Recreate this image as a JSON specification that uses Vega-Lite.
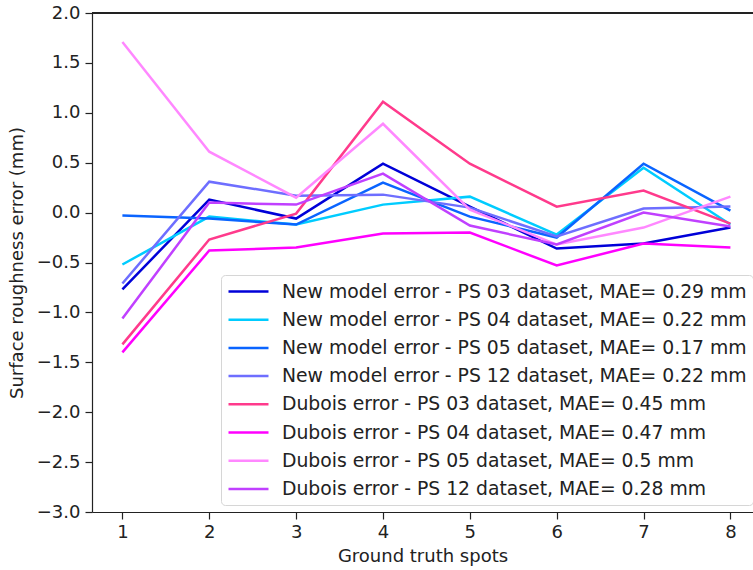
{
  "$schema": "https://vega.github.io/schema/vega-lite/v6.json",
  "width": 661,
  "height": 499,
  "autosize": {"type": "none"},
  "padding": {"left": 92, "top": 13, "right": 0, "bottom": 58},
  "background": "white",
  "config": {
    "font": "DejaVu Sans",
    "view": {"stroke": null},
    "axis": {
      "grid": false,
      "domainColor": "#222222",
      "domainWidth": 1.2,
      "tickColor": "#222222",
      "tickWidth": 1.2,
      "tickSize": 7,
      "labelFont": "DejaVu Sans",
      "labelFontSize": 18,
      "labelColor": "#222222",
      "titleFont": "DejaVu Sans",
      "titleFontSize": 18,
      "titleFontWeight": "normal",
      "titleColor": "#222222"
    }
  },
  "data": {
    "values": [
      {"series": "New model error - PS 03 dataset, MAE= 0.29 mm", "spot": 1, "error": -0.77},
      {"series": "New model error - PS 03 dataset, MAE= 0.29 mm", "spot": 2, "error": 0.13},
      {"series": "New model error - PS 03 dataset, MAE= 0.29 mm", "spot": 3, "error": -0.06},
      {"series": "New model error - PS 03 dataset, MAE= 0.29 mm", "spot": 4, "error": 0.49},
      {"series": "New model error - PS 03 dataset, MAE= 0.29 mm", "spot": 5, "error": 0.06},
      {"series": "New model error - PS 03 dataset, MAE= 0.29 mm", "spot": 6, "error": -0.36},
      {"series": "New model error - PS 03 dataset, MAE= 0.29 mm", "spot": 7, "error": -0.31},
      {"series": "New model error - PS 03 dataset, MAE= 0.29 mm", "spot": 8, "error": -0.15},
      {"series": "New model error - PS 04 dataset, MAE= 0.22 mm", "spot": 1, "error": -0.52},
      {"series": "New model error - PS 04 dataset, MAE= 0.22 mm", "spot": 2, "error": -0.04},
      {"series": "New model error - PS 04 dataset, MAE= 0.22 mm", "spot": 3, "error": -0.12},
      {"series": "New model error - PS 04 dataset, MAE= 0.22 mm", "spot": 4, "error": 0.08},
      {"series": "New model error - PS 04 dataset, MAE= 0.22 mm", "spot": 5, "error": 0.16},
      {"series": "New model error - PS 04 dataset, MAE= 0.22 mm", "spot": 6, "error": -0.22},
      {"series": "New model error - PS 04 dataset, MAE= 0.22 mm", "spot": 7, "error": 0.45},
      {"series": "New model error - PS 04 dataset, MAE= 0.22 mm", "spot": 8, "error": -0.12},
      {"series": "New model error - PS 05 dataset, MAE= 0.17 mm", "spot": 1, "error": -0.03},
      {"series": "New model error - PS 05 dataset, MAE= 0.17 mm", "spot": 2, "error": -0.06},
      {"series": "New model error - PS 05 dataset, MAE= 0.17 mm", "spot": 3, "error": -0.12},
      {"series": "New model error - PS 05 dataset, MAE= 0.17 mm", "spot": 4, "error": 0.30},
      {"series": "New model error - PS 05 dataset, MAE= 0.17 mm", "spot": 5, "error": -0.04},
      {"series": "New model error - PS 05 dataset, MAE= 0.17 mm", "spot": 6, "error": -0.25},
      {"series": "New model error - PS 05 dataset, MAE= 0.17 mm", "spot": 7, "error": 0.49},
      {"series": "New model error - PS 05 dataset, MAE= 0.17 mm", "spot": 8, "error": 0.02},
      {"series": "New model error - PS 12 dataset, MAE= 0.22 mm", "spot": 1, "error": -0.71},
      {"series": "New model error - PS 12 dataset, MAE= 0.22 mm", "spot": 2, "error": 0.31},
      {"series": "New model error - PS 12 dataset, MAE= 0.22 mm", "spot": 3, "error": 0.17},
      {"series": "New model error - PS 12 dataset, MAE= 0.22 mm", "spot": 4, "error": 0.18},
      {"series": "New model error - PS 12 dataset, MAE= 0.22 mm", "spot": 5, "error": 0.05},
      {"series": "New model error - PS 12 dataset, MAE= 0.22 mm", "spot": 6, "error": -0.24},
      {"series": "New model error - PS 12 dataset, MAE= 0.22 mm", "spot": 7, "error": 0.04},
      {"series": "New model error - PS 12 dataset, MAE= 0.22 mm", "spot": 8, "error": 0.06},
      {"series": "Dubois error - PS 03 dataset, MAE= 0.45 mm", "spot": 1, "error": -1.32},
      {"series": "Dubois error - PS 03 dataset, MAE= 0.45 mm", "spot": 2, "error": -0.27},
      {"series": "Dubois error - PS 03 dataset, MAE= 0.45 mm", "spot": 3, "error": -0.01},
      {"series": "Dubois error - PS 03 dataset, MAE= 0.45 mm", "spot": 4, "error": 1.11},
      {"series": "Dubois error - PS 03 dataset, MAE= 0.45 mm", "spot": 5, "error": 0.49},
      {"series": "Dubois error - PS 03 dataset, MAE= 0.45 mm", "spot": 6, "error": 0.06},
      {"series": "Dubois error - PS 03 dataset, MAE= 0.45 mm", "spot": 7, "error": 0.22},
      {"series": "Dubois error - PS 03 dataset, MAE= 0.45 mm", "spot": 8, "error": -0.11},
      {"series": "Dubois error - PS 04 dataset, MAE= 0.47 mm", "spot": 1, "error": -1.40},
      {"series": "Dubois error - PS 04 dataset, MAE= 0.47 mm", "spot": 2, "error": -0.38},
      {"series": "Dubois error - PS 04 dataset, MAE= 0.47 mm", "spot": 3, "error": -0.35},
      {"series": "Dubois error - PS 04 dataset, MAE= 0.47 mm", "spot": 4, "error": -0.21},
      {"series": "Dubois error - PS 04 dataset, MAE= 0.47 mm", "spot": 5, "error": -0.20},
      {"series": "Dubois error - PS 04 dataset, MAE= 0.47 mm", "spot": 6, "error": -0.53},
      {"series": "Dubois error - PS 04 dataset, MAE= 0.47 mm", "spot": 7, "error": -0.31},
      {"series": "Dubois error - PS 04 dataset, MAE= 0.47 mm", "spot": 8, "error": -0.35},
      {"series": "Dubois error - PS 05 dataset, MAE= 0.5 mm", "spot": 1, "error": 1.71},
      {"series": "Dubois error - PS 05 dataset, MAE= 0.5 mm", "spot": 2, "error": 0.61},
      {"series": "Dubois error - PS 05 dataset, MAE= 0.5 mm", "spot": 3, "error": 0.15},
      {"series": "Dubois error - PS 05 dataset, MAE= 0.5 mm", "spot": 4, "error": 0.89},
      {"series": "Dubois error - PS 05 dataset, MAE= 0.5 mm", "spot": 5, "error": 0.03},
      {"series": "Dubois error - PS 05 dataset, MAE= 0.5 mm", "spot": 6, "error": -0.32},
      {"series": "Dubois error - PS 05 dataset, MAE= 0.5 mm", "spot": 7, "error": -0.15},
      {"series": "Dubois error - PS 05 dataset, MAE= 0.5 mm", "spot": 8, "error": 0.16},
      {"series": "Dubois error - PS 12 dataset, MAE= 0.28 mm", "spot": 1, "error": -1.06},
      {"series": "Dubois error - PS 12 dataset, MAE= 0.28 mm", "spot": 2, "error": 0.10},
      {"series": "Dubois error - PS 12 dataset, MAE= 0.28 mm", "spot": 3, "error": 0.08},
      {"series": "Dubois error - PS 12 dataset, MAE= 0.28 mm", "spot": 4, "error": 0.39},
      {"series": "Dubois error - PS 12 dataset, MAE= 0.28 mm", "spot": 5, "error": -0.13},
      {"series": "Dubois error - PS 12 dataset, MAE= 0.28 mm", "spot": 6, "error": -0.32},
      {"series": "Dubois error - PS 12 dataset, MAE= 0.28 mm", "spot": 7, "error": 0.00},
      {"series": "Dubois error - PS 12 dataset, MAE= 0.28 mm", "spot": 8, "error": -0.14}
    ]
  },
  "layer": [
    {
      "mark": {"type": "line", "strokeWidth": 2.5, "clip": true},
      "encoding": {
        "x": {
          "field": "spot", "type": "quantitative",
          "scale": {"domain": [0.65, 8.26], "nice": false, "zero": false},
          "axis": {"values": [1, 2, 3, 4, 5, 6, 7, 8], "format": "d", "title": "Ground truth spots", "labelPadding": 4, "titlePadding": 6, "labelFlush": false}
        },
        "y": {
          "field": "error", "type": "quantitative",
          "scale": {"domain": [-3, 2], "nice": false, "zero": false},
          "axis": {"values": [-3, -2.5, -2, -1.5, -1, -0.5, 0, 0.5, 1, 1.5, 2], "format": ".1f", "title": "Surface roughness error (mm)", "labelPadding": 5, "titlePadding": 10, "labelFlush": false}
        },
        "color": {
          "field": "series", "type": "nominal", "sort": null,
          "scale": {
            "domain": [
              "New model error - PS 03 dataset, MAE= 0.29 mm",
              "New model error - PS 04 dataset, MAE= 0.22 mm",
              "New model error - PS 05 dataset, MAE= 0.17 mm",
              "New model error - PS 12 dataset, MAE= 0.22 mm",
              "Dubois error - PS 03 dataset, MAE= 0.45 mm",
              "Dubois error - PS 04 dataset, MAE= 0.47 mm",
              "Dubois error - PS 05 dataset, MAE= 0.5 mm",
              "Dubois error - PS 12 dataset, MAE= 0.28 mm"
            ],
            "range": ["#0000d8", "#00ccff", "#0a64ff", "#6e6eff", "#ff3a8c", "#ff00ff", "#ff88ff", "#c040ff"]
          },
          "legend": {
            "title": null,
            "orient": "none",
            "legendX": 129,
            "legendY": 262,
            "symbolType": "M-1,0H3.444",
            "symbolSize": 324,
            "symbolStrokeWidth": 2.5,
            "labelFont": "DejaVu Sans",
            "labelFontSize": 18.8,
            "labelColor": "#222222",
            "labelOffset": 34,
            "labelLimit": 600,
            "rowPadding": 7.2,
            "padding": 6,
            "strokeColor": "#d6d6d6",
            "fillColor": "rgba(255,255,255,0.85)",
            "cornerRadius": 4
          }
        }
      }
    },
    {
      "mark": {"type": "rule", "color": "#222222", "strokeWidth": 1.2},
      "encoding": {"y": {"datum": 2}}
    }
  ]
}
